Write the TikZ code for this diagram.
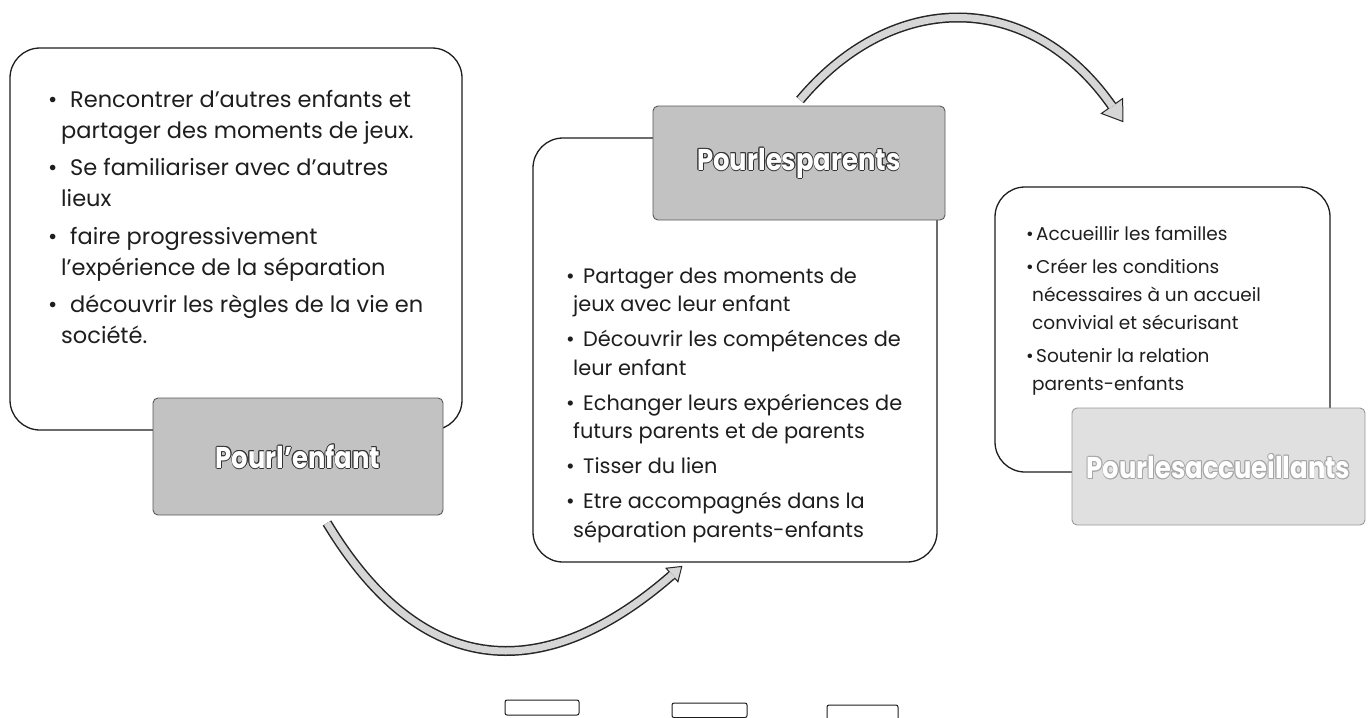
\documentclass[tikz,border=0pt]{standalone}
\usepackage{fontspec}
\setmainfont{Poppins}
\definecolor{labgray}{HTML}{C2C2C2}
\definecolor{lablight}{HTML}{E0E0E0}
\definecolor{bandfill}{HTML}{D6D6D6}
\definecolor{ink}{HTML}{1E1E1E}
\newcommand\olt[2]{\leavevmode
 \rlap{\kern0.9pt{\color{#1}#2}}\rlap{\kern-0.9pt{\color{#1}#2}}%
 \rlap{\raisebox{0.9pt}{\color{#1}#2}}\rlap{\raisebox{-0.9pt}{\color{#1}#2}}%
 \rlap{\kern0.65pt\raisebox{0.65pt}{\color{#1}#2}}\rlap{\kern-0.65pt\raisebox{0.65pt}{\color{#1}#2}}%
 \rlap{\kern0.65pt\raisebox{-0.65pt}{\color{#1}#2}}\rlap{\kern-0.65pt\raisebox{-0.65pt}{\color{#1}#2}}%
 {\color{white}#2}}
\newcommand\tagtext[2]{\scalebox{0.86}[1]{\olt{#1}{#2}}}
\newcommand\bul[1]{\makebox[#1][l]{\textbullet}}
\begin{document}
\begin{tikzpicture}[x=1pt,y=-1pt,
  bigbox/.style={draw=ink, line width=1.3pt, rounded corners=30pt, fill=white, inner sep=0pt},
  tag/.style={draw=black!65, line width=0.9pt, rounded corners=5pt, fill=labgray, inner sep=0pt,
    font=\bfseries\fontsize{30}{34}\selectfont},
  body/.style={inner sep=0pt, anchor=base west, text=ink},
  band/.style={draw=black!85, line width=10pt, postaction={draw=bandfill, line width=7pt}},
  headtri/.style={draw=black!85, fill=bandfill, line width=1pt, line join=miter}
]
\useasboundingbox (0,0) rectangle (1372,717);
\fill[white] (0,0) rectangle (1372,717);

% big boxes
\node[bigbox, minimum width=452pt, minimum height=382pt] (enfbox) at (236,239) {};
\node[bigbox, minimum width=404pt, minimum height=424pt] (parbox) at (735,350) {};
\node[bigbox, minimum width=335pt, minimum height=285pt] (accbox) at (1162.5,329.5) {};

% labels
\node[tag, minimum width=290pt, minimum height=117pt] (enf) at (298,456.5) {\tagtext{black!80}{Pourl'enfant}};
\node[tag, minimum width=292pt, minimum height=114pt] (par) at (799,163) {\tagtext{black!80}{Pourlesparents}};
\node[tag, fill=lablight, draw=black!40, minimum width=293pt, minimum height=117pt] (acc) at (1218.5,466.5) {\tagtext{black!35}{Pourlesaccueillants}};

% texts
\node[body] (enftext) at (48,107) {\parbox[t]{410pt}{\raggedright\fontsize{22.5}{31}\selectfont
\bul{22pt}Rencontrer d'autres enfants et\\
\hspace*{13pt}partager des moments de jeux.\\[6.5pt]
\bul{22pt}Se familiariser avec d'autres\\
\hspace*{13pt}lieux\\[6.5pt]
\bul{22pt}faire progressivement\\
\hspace*{13pt}l'expérience de la séparation\\[6.5pt]
\bul{22pt}découvrir les règles de la vie en\\
\hspace*{13pt}société.}};

\node[body] (partext) at (566,283) {\parbox[t]{370pt}{\raggedright\fontsize{20.9}{28.5}\selectfont
\bul{17pt}Partager des moments de\\
\hspace*{7pt}jeux avec leur enfant\\[6.5pt]
\bul{17pt}Découvrir les compétences de\\
\hspace*{7pt}leur enfant\\[6.5pt]
\bul{17pt}Echanger leurs expériences de\\
\hspace*{7pt}futurs parents et de parents\\[6.5pt]
\bul{17pt}Tisser du lien\\[6.5pt]
\bul{17pt}Etre accompagnés dans la\\
\hspace*{7pt}séparation parents-enfants}};

\node[body] (acctext) at (1026,240) {\parbox[t]{300pt}{\raggedright\fontsize{18.5}{28}\selectfont
\bul{10pt}Accueillir les familles\\[5pt]
\bul{10pt}Créer les conditions\\
\hspace*{6pt}nécessaires à un accueil\\
\hspace*{6pt}convivial et sécurisant\\[5pt]
\bul{10pt}Soutenir la relation\\
\hspace*{6pt}parents-enfants}};

% arrows
\coordinate (a1s) at (327,523);
\coordinate (a1e) at (672,575);
\coordinate (a2s) at (800,100);
\coordinate (a2e) at (1112,106);
\draw[band] (a1s) .. controls (440,710) and (575,660) .. (a1e);
\draw[band] (a2s) .. controls (893,-11) and (1030,-11) .. (a2e);
\begin{scope}[shift={(a1e)}, rotate=41.2]
  \filldraw[headtri] (0pt,-9pt) -- (13pt,0pt) -- (0pt,9pt) -- cycle;
  \fill[bandfill] (-1.5pt,-3.6pt) rectangle (0.6pt,3.6pt);
\end{scope}
\begin{scope}[shift={(a2e)}, rotate=-55]
  \filldraw[headtri] (0pt,-13pt) -- (19pt,0pt) -- (0pt,13pt) -- cycle;
  \fill[bandfill] (-1.5pt,-3.6pt) rectangle (0.6pt,3.6pt);
\end{scope}

% small boxes at the bottom
\draw[draw=ink, line width=1pt, rounded corners=2pt] (505,700) rectangle (579,715);
\draw[draw=ink, line width=1pt, rounded corners=2pt] (672,703) rectangle (747,717.5);
\draw[draw=ink, line width=1pt, rounded corners=2pt] (827,705) rectangle (898,722);
\end{tikzpicture}
\end{document}
